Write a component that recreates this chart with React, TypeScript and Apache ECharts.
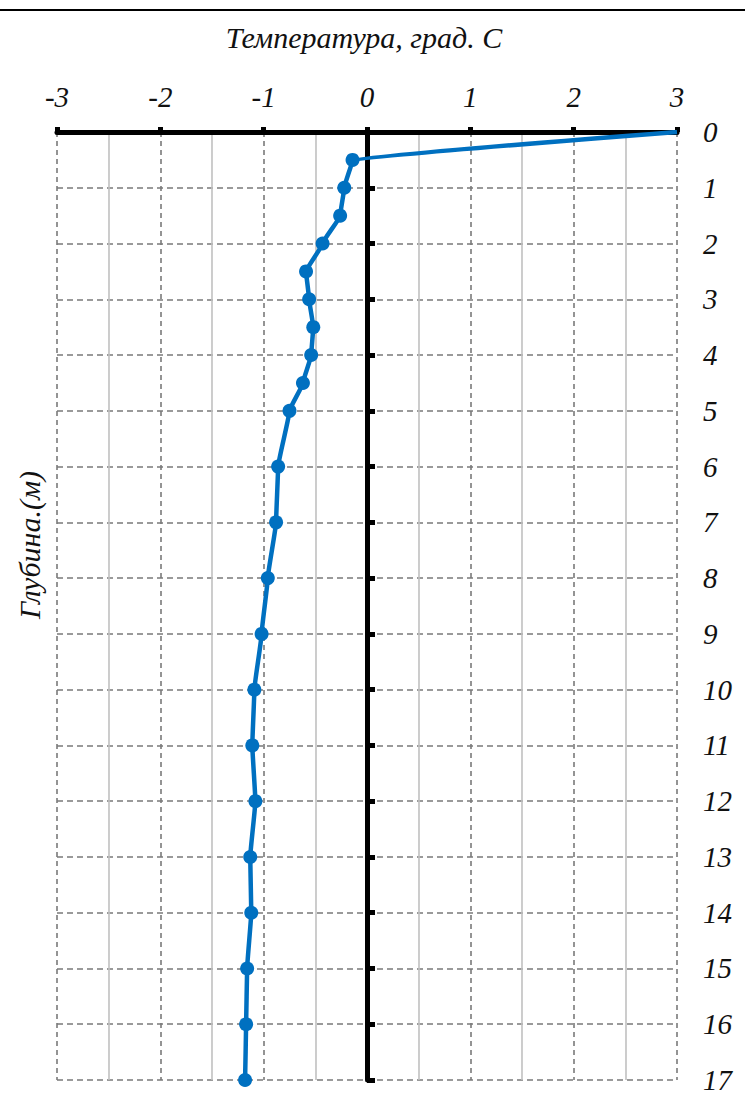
import React, { useEffect, useRef } from "react";
import * as echarts from "echarts";

const depths = [0, 0.5, 1, 1.5, 2, 2.5, 3, 3.5, 4, 4.5, 5, 6, 7, 8, 9, 10, 11, 12, 13, 14, 15, 16, 17];
const temps = [3, -0.14, -0.22, -0.26, -0.43, -0.59, -0.56, -0.52, -0.54, -0.62, -0.75, -0.86, -0.88, -0.96, -1.02, -1.09, -1.11, -1.08, -1.13, -1.12, -1.16, -1.17, -1.18];
const xTitle = "Температура, град. С";
const yTitle = "Глубина.(м)";

const FONT = "Times New Roman, Liberation Serif, serif";

export default function App() {
  const ref = useRef<HTMLDivElement>(null);
  useEffect(() => {
    if (!ref.current) return;
    const chart = echarts.init(ref.current, undefined, { renderer: "svg" });
    const data = depths.map((d, i) =>
      i === 0 ? { value: [temps[i], d], symbol: "none" } : { value: [temps[i], d] }
    );
    chart.setOption({
      animation: false,
      backgroundColor: "#fff",
      grid: { left: 57, right: 68, top: 132, bottom: 22 },
      xAxis: {
        type: "value",
        position: "top",
        min: -3,
        max: 3,
        interval: 1,
        axisLine: { onZero: false, lineStyle: { color: "#000", width: 5 } },
        axisTick: { show: true, length: 5, lineStyle: { color: "#000", width: 5 } },
        axisLabel: {
          margin: 21,
          fontFamily: FONT,
          fontStyle: "italic",
          fontSize: 29,
          color: "#111",
        },
        splitLine: { show: true, lineStyle: { color: "#7a7a7a", width: 1.6, type: [5, 4] } },
        minorTick: { show: false, splitNumber: 2 },
        minorSplitLine: { show: true, lineStyle: { color: "#c0c0c0", width: 1.6 } },
      },
      yAxis: [
        {
          type: "value",
          inverse: true,
          min: 0,
          max: 17,
          interval: 1,
          position: "left",
          axisLine: { onZero: true, lineStyle: { color: "#000", width: 5 } },
          axisTick: { show: true, inside: true, length: 8, lineStyle: { color: "#000", width: 5 } },
          axisLabel: { show: false },
          splitLine: { show: true, lineStyle: { color: "#7a7a7a", width: 1.6, type: [6, 4] } },
        },
        {
          type: "value",
          inverse: true,
          min: 0,
          max: 17,
          interval: 1,
          position: "right",
          axisLine: { show: false },
          axisTick: { show: false },
          splitLine: { show: false },
          axisLabel: {
            margin: 26,
            align: "left",
            fontFamily: FONT,
            fontStyle: "italic",
            fontSize: 29,
            color: "#111",
          },
        },
      ],
      graphic: [
        {
          type: "line",
          shape: { x1: 0, y1: 10, x2: 745, y2: 10 },
          style: { stroke: "#000", lineWidth: 2 },
        },
        {
          type: "text",
          x: 364,
          y: 37,
          style: {
            text: xTitle,
            fontFamily: FONT,
            fontStyle: "italic",
            fontSize: 30,
            fill: "#111",
            textAlign: "center",
            textVerticalAlign: "middle",
          },
        },
        {
          type: "text",
          x: 29,
          y: 545,
          rotation: Math.PI / 2,
          style: {
            text: yTitle,
            fontFamily: FONT,
            fontStyle: "italic",
            fontSize: 30,
            fill: "#111",
            textAlign: "center",
            textVerticalAlign: "middle",
          },
        },
      ],
      series: [
        {
          type: "line",
          xAxisIndex: 0,
          yAxisIndex: 0,
          data,
          smooth: 0.1,
          smoothMonotone: "y",
          symbol: "circle",
          symbolSize: 14,
          lineStyle: { color: "#0070C0", width: 4.5 },
          itemStyle: { color: "#0070C0" },
          z: 5,
        },
      ],
    });
    return () => chart.dispose();
  }, []);
  return (
    <div
      ref={ref}
      style={{ position: "fixed", left: 0, top: 0, width: 745, height: 1102 }}
    />
  );
}
